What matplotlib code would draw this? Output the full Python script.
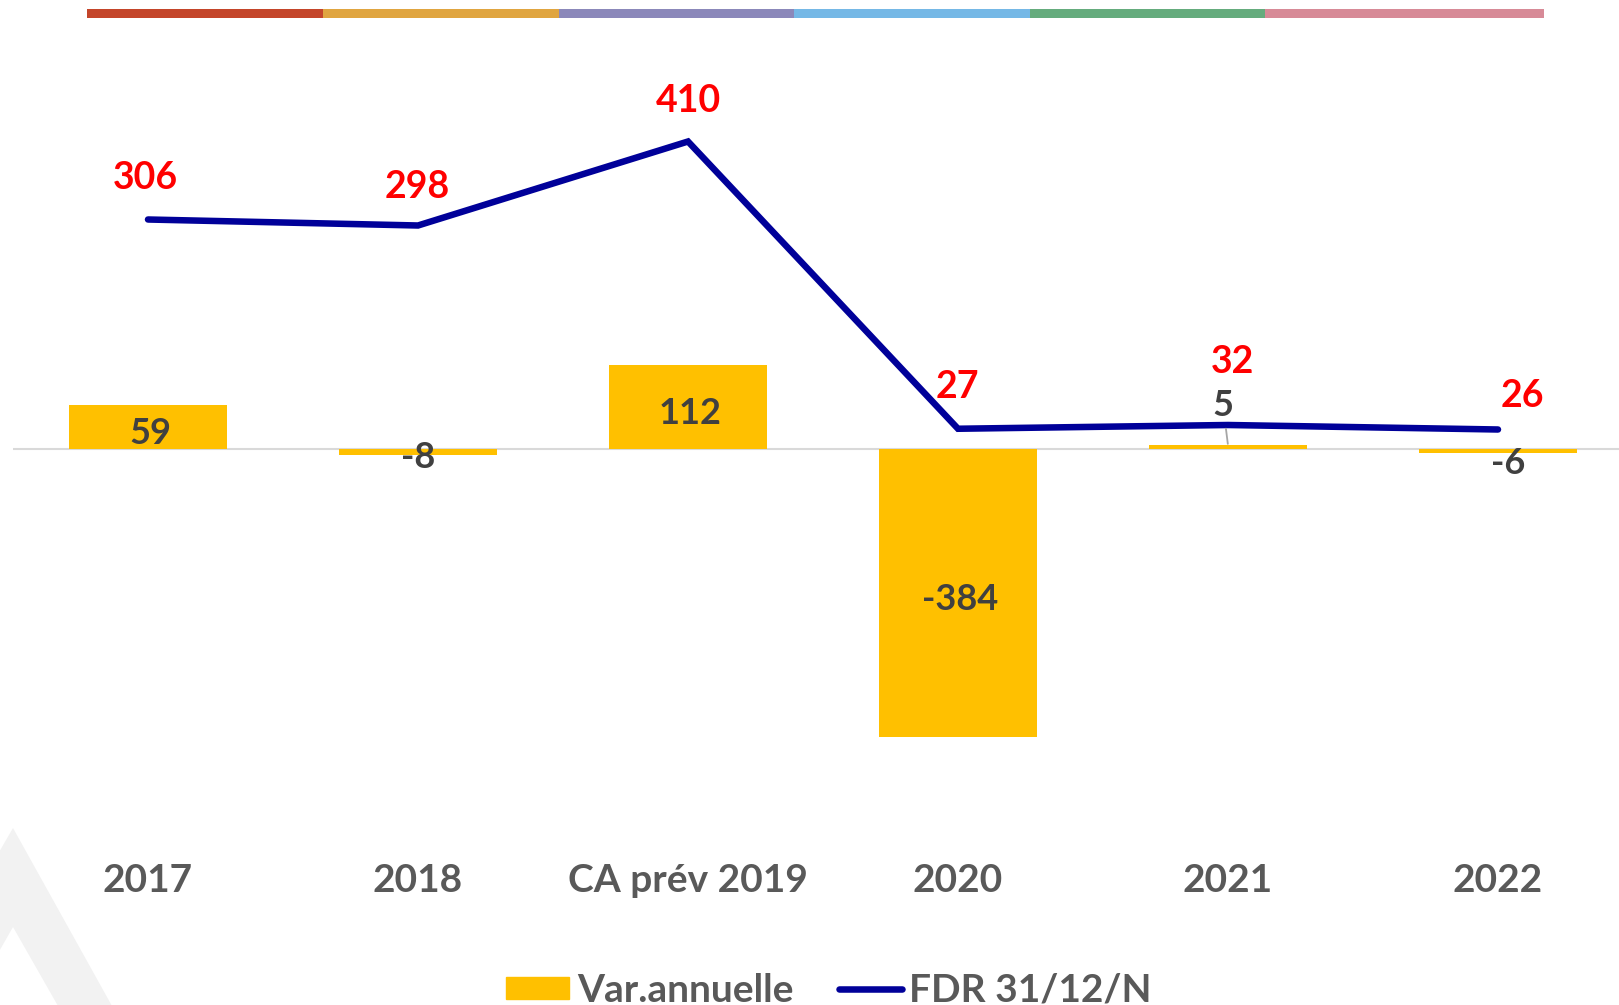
import matplotlib
matplotlib.use('Agg')
import matplotlib.pyplot as plt
from matplotlib.patches import Rectangle, Polygon, Patch
from matplotlib.lines import Line2D

# ---- data ----
categories = ['2017', '2018', 'CA prév 2019', '2020', '2021', '2022']
var_annuelle = [59, -8, 112, -384, 5, -6]
fdr = [306, 298, 410, 27, 32, 26]

# ---- styling ----
W, H = 1619, 1005
PT = 0.72  # px -> pt at dpi 100
BAR_C = '#FFC000'
LINE_C = '#000099'
RED = '#FF0000'
DARK = '#404040'
GREY = '#595959'

plt.rcParams['font.family'] = ['Lato', 'DejaVu Sans']

fig = plt.figure(figsize=(W / 100, H / 100), dpi=100)

def fx(px):
    return px / W

def fy(py):
    return 1 - py / H

# top decorative stripe
stripe_edges = [87, 323, 559, 794, 1030, 1265, 1544]
stripe_cols = ['#C4452A', '#E0A540', '#8B88BA', '#75B8E6', '#65AC7D', '#D78A97']
for i, c in enumerate(stripe_cols):
    x0, x1 = stripe_edges[i], stripe_edges[i + 1]
    fig.add_artist(Rectangle((fx(x0), fy(18)), fx(x1 - x0), 9 / H,
                             transform=fig.transFigure, color=c, lw=0))

# watermark triangle bottom-left
outer = [(fx(13), fy(828)), (fx(112), fy(1006)), (fx(-90), fy(1006))]
inner = [(fx(13), fy(927)), (fx(58), fy(1006)), (fx(-32), fy(1006))]
fig.add_artist(Polygon(outer, closed=True, transform=fig.transFigure,
                       color='#F2F2F2', lw=0, zorder=0))
fig.add_artist(Polygon(inner, closed=True, transform=fig.transFigure,
                       color='white', lw=0, zorder=0))

ax = fig.add_axes([fx(13), fy(824), 1620 / W, 750 / H])
ax.patch.set_alpha(0)
xs = list(range(len(categories)))
ax.axhline(0, color='#D9D9D9', lw=1.5, zorder=1)
ax.bar(xs, var_annuelle, width=0.585, color=BAR_C, zorder=2)
ax.plot(xs, fdr, color=LINE_C, lw=4.7, solid_capstyle='round',
        solid_joinstyle='miter', zorder=3)
ax.set_xlim(-0.5, 5.5)
ax.set_ylim(-500, 500)
for s in ax.spines.values():
    s.set_visible(False)
ax.set_yticks([])
ax.set_xticks(xs)
ax.set_xticklabels(categories, fontsize=28, fontweight='bold', color=GREY)
ax.tick_params(axis='x', length=0, pad=28)

# red labels for line (offsets in px: dx, dy-up)
red_off = [(-3, 41), (-1, 38.5), (0, 40.5), (-1, 41.5), (4, 62.5), (24, 33.5)]
for i, v in enumerate(fdr):
    dx, dy = red_off[i]
    ax.annotate(f'{v}', (xs[i], v), xytext=(dx * PT, dy * PT),
                textcoords='offset points', ha='center', va='center',
                fontsize=27, fontweight='bold', color=RED, zorder=5)

# bar labels
for i, v in enumerate(var_annuelle):
    if abs(v) >= 40:
        ax.annotate(f'{v}', (xs[i], v / 2), ha='center', va='center',
                    xytext=(2 * PT, -6.5 * PT), textcoords='offset points',
                    fontsize=26, fontweight='bold', color=DARK, zorder=5)

small_off = {1: (0, -3), 4: (-5, 40), 5: (10, -10.5)}
for i, (dx, dy) in small_off.items():
    v = var_annuelle[i]
    kw = {}
    if i == 4:
        kw['arrowprops'] = dict(arrowstyle='-', color='#A6A6A6', lw=1.3,
                                shrinkA=3, shrinkB=1)
    ax.annotate(f'{v}', (xs[i], v), xytext=(dx * PT, dy * PT),
                textcoords='offset points', ha='center', va='center',
                fontsize=26, fontweight='bold', color=DARK, zorder=5, **kw)

# legend
handles = [Patch(color=BAR_C),
           Line2D([], [], color=LINE_C, lw=4.7, solid_capstyle='round')]
leg = fig.legend(handles, ['Var.annuelle', 'FDR 31/12/N'], loc='center',
                 bbox_to_anchor=(fx(829), fy(990)), ncol=2, frameon=False,
                 prop={'weight': 'bold', 'size': 28}, handlelength=1.62,
                 handleheight=0.5, handletextpad=0.2, columnspacing=1.16,
                 labelcolor=GREY)

fig.savefig('out.png', dpi=100)
